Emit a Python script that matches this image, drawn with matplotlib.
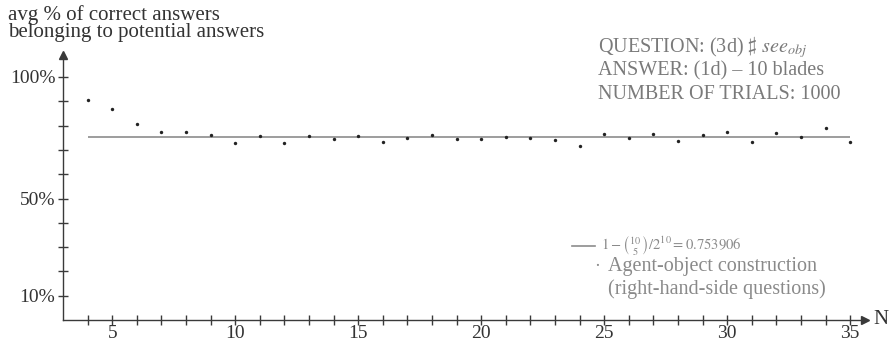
import matplotlib
matplotlib.use("Agg")
import matplotlib.pyplot as plt

plt.rcParams["font.family"] = ["Liberation Serif", "DejaVu Serif"]
plt.rcParams["mathtext.fontset"] = "stix"

# Number of blades N and average share of correct answers (%)
n_values = list(range(4, 36))
avg_correct = [90.7, 86.7, 80.5, 77.2, 77.2, 76.0, 73.0, 75.7, 72.8, 75.7,
               74.6, 75.7, 73.1, 74.9, 76.0, 74.6, 74.5, 75.2, 74.9, 74.1,
               71.5, 76.7, 74.9, 76.5, 73.7, 76.1, 77.4, 73.3, 77.1, 75.2,
               78.9, 73.3]
reference_value = 0.753906 * 100

y_major = [10, 50, 100]
y_minor = list(range(10, 101, 10))
x_major = [5, 10, 15, 20, 25, 30, 35]
x_minor = list(range(4, 36))

axis_col = "#3a3a3a"
fig = plt.figure(figsize=(8.96, 3.47), dpi=100)
ax = fig.add_axes([63 / 896, 1 - 320 / 347, 802 / 896, 265 / 347])
ax.set_xlim(3, 3 + 802 / 24.6)
ax.set_ylim(0, 265 / 2.43)

ax.hlines(reference_value, n_values[0], n_values[-1], color="#8c8c8c", lw=1.2)
ax.scatter(n_values, avg_correct, s=6, color="#222222", zorder=3, linewidths=0)

for s in ("top", "right"):
    ax.spines[s].set_visible(False)
for s in ("left", "bottom"):
    ax.spines[s].set_color(axis_col)
    ax.spines[s].set_linewidth(1.0)

ax.set_yticks(y_major)
ax.set_yticklabels([f"{v}%" for v in y_major])
ax.set_yticks(y_minor, minor=True)
ax.set_xticks(x_major)
ax.set_xticks(x_minor, minor=True)
ax.tick_params(which="both", direction="inout", length=7, width=1.0,
               color=axis_col, labelcolor="#333333", labelsize=14)
ax.tick_params(axis="x", pad=0)
ax.tick_params(axis="y", pad=2)

# Arrow heads on the axes
ax.plot(1, 0, marker=">", color=axis_col, ms=6, transform=ax.transAxes, clip_on=False)
ax.plot(0, 1, marker="^", color=axis_col, ms=6, transform=ax.transAxes, clip_on=False)
fig.text(873 / 896, 1 - 320 / 347, "N", fontsize=15, color="#333333",
         va="center", ha="left")

fig.text(8 / 896, 1 - 5 / 347, "avg % of correct answers\nbelonging to potential answers",
         fontsize=15, color="#333333", va="top", ha="left", linespacing=0.88)

info_col = "#7a7a7a"
fig.text(598 / 896, 1 - 47 / 347, r"QUESTION: (3d) $\sharp$ $\mathit{see}_{obj}$",
         fontsize=14.5, color=info_col, va="center", ha="left")
fig.text(598 / 896, 1 - 71 / 347, "ANSWER: (1d) – 10 blades",
         fontsize=14.5, color=info_col, va="center", ha="left")
fig.text(598 / 896, 1 - 95 / 347, "NUMBER OF TRIALS: 1000",
         fontsize=14.5, color=info_col, va="center", ha="left")

leg_col = "#8a8a8a"
fig.lines.append(plt.Line2D([572 / 896, 595 / 896], [1 - 246 / 347] * 2,
                            transform=fig.transFigure, color="#8c8c8c", lw=1.2))
fig.text(601 / 896, 1 - 246 / 347, r"$1-\binom{10}{5}/2^{10}=0.753906$",
         fontsize=10.5, color=leg_col, va="center", ha="left")
fig.text(597 / 896, 1 - 266 / 347, "·", fontsize=13, color=leg_col, va="center", ha="center")
fig.text(608 / 896, 1 - 266 / 347, "Agent-object construction",
         fontsize=14.5, color=leg_col, va="center", ha="left")
fig.text(608 / 896, 1 - 289 / 347, "(right-hand-side questions)",
         fontsize=14.5, color=leg_col, va="center", ha="left")

fig.savefig("out.png", dpi=100)
